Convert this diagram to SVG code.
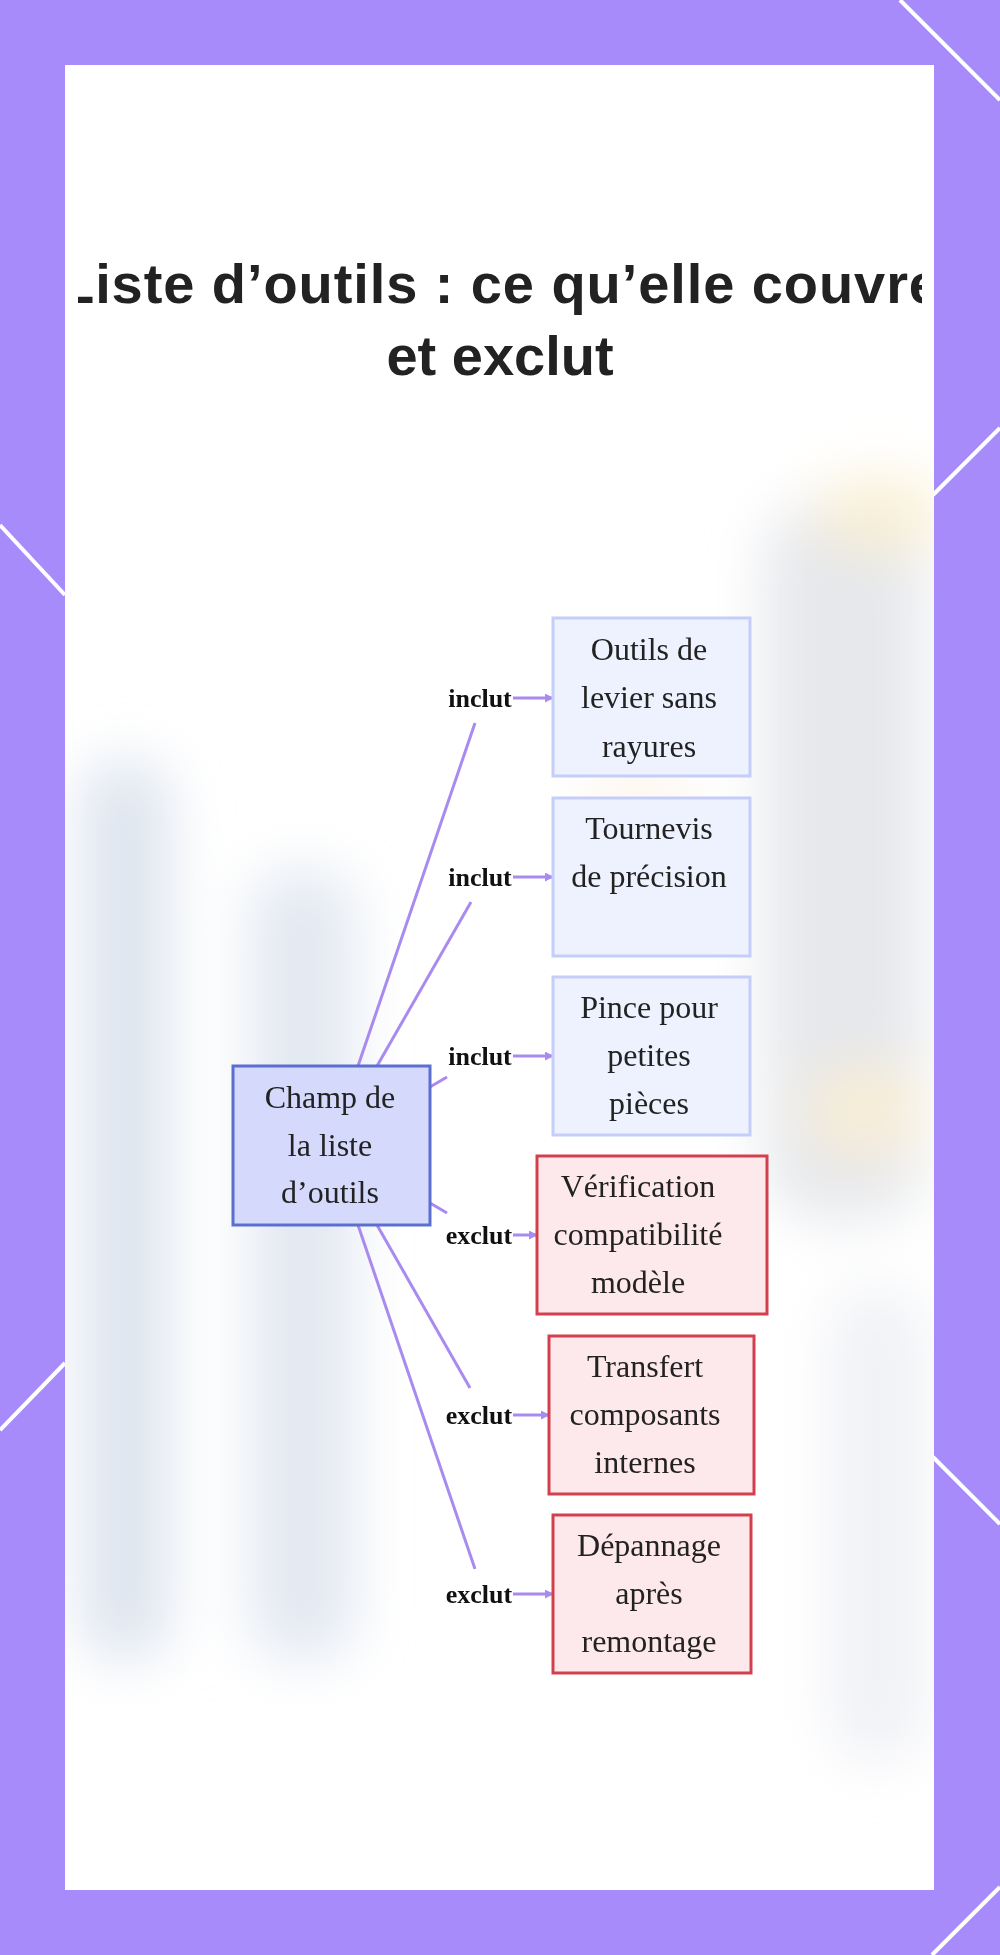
<svg xmlns="http://www.w3.org/2000/svg" width="1000" height="1955" viewBox="0 0 1000 1955">
<defs>
<style>
.title{font-family:"Liberation Sans",Arial,sans-serif;font-weight:bold;font-size:56px;fill:#222;text-anchor:middle}
.nt{font-family:"Liberation Serif","Times New Roman",serif;font-size:32px;fill:#222;text-anchor:middle}
.lbl{font-family:"Liberation Serif","Times New Roman",serif;font-weight:bold;font-size:26px;fill:#111;text-anchor:middle}
.inc{fill:#EEF1FE;stroke:#C5CEF8;stroke-width:3}
.exc{fill:#FDE8EC;stroke:#D2404E;stroke-width:3}
.ctr{fill:#D5D9FB;stroke:#5B6FCF;stroke-width:3}
.edge{fill:none;stroke:#A98BF0;stroke-width:3}
.lblbg{fill:#ffffff;fill-opacity:0.8}
.fl{stroke:#ffffff;stroke-width:4;fill:none}
</style>
<marker id="ah" viewBox="0 0 10 10" refX="9" refY="5" markerWidth="3" markerHeight="3" orient="auto">
<path d="M0,0 L10,5 L0,10 z" fill="#A98BF0"/>
</marker>
<filter id="blur" x="-50%" y="-50%" width="200%" height="200%"><feGaussianBlur stdDeviation="28"/></filter>
<clipPath id="panelclip"><rect x="65" y="65" width="869" height="1825"/></clipPath>
<clipPath id="titleclip"><rect x="78" y="200" width="844" height="220"/></clipPath>
</defs>
<rect x="0" y="0" width="1000" height="1955" fill="#A78BFA"/>
<g id="frame-lines">
<line class="fl" x1="900" y1="0" x2="1000" y2="100"/>
<line class="fl" x1="933" y1="495" x2="1000" y2="428"/>
<line class="fl" x1="0" y1="525" x2="65" y2="595"/>
<line class="fl" x1="0" y1="1430" x2="65" y2="1363"/>
<line class="fl" x1="933" y1="1457" x2="1000" y2="1524"/>
<line class="fl" x1="932" y1="1955" x2="1000" y2="1887"/>
</g>
<rect x="65" y="65" width="869" height="1825" fill="#ffffff"/>
<g id="background" clip-path="url(#panelclip)">
<g filter="url(#blur)">
<rect x="80" y="760" width="90" height="900" rx="40" fill="#D8E0EC" opacity="0.85"/>
<rect x="250" y="870" width="105" height="790" rx="40" fill="#DCE3EE" opacity="0.8"/>
<rect x="765" y="500" width="160" height="720" rx="60" fill="#E2E4E9" opacity="0.85"/>
<ellipse cx="880" cy="515" rx="65" ry="40" fill="#FAEFD2" opacity="0.9"/>
<ellipse cx="865" cy="1110" rx="60" ry="50" fill="#FAEFD2" opacity="0.85"/>
<rect x="830" y="1290" width="95" height="470" rx="40" fill="#ECEEF2" opacity="0.8"/>
<ellipse cx="640" cy="790" rx="60" ry="30" fill="#FBEEDF" opacity="0.6"/>
</g>
</g>
<g id="title" clip-path="url(#titleclip)">
<text class="title" x="500" y="303" textLength="880" lengthAdjust="spacing">Liste d’outils : ce qu’elle couvre</text>
<text class="title" x="500" y="375">et exclut</text>
</g>
<g id="connectors">
<path class="edge" d="M358,1066 L475,723"/>
<path class="edge" d="M513,698 L553,698" marker-end="url(#ah)"/>
<path class="edge" d="M377,1066 L471,902"/>
<path class="edge" d="M513,877 L553,877" marker-end="url(#ah)"/>
<path class="edge" d="M430,1087 L447,1077"/>
<path class="edge" d="M513,1056 L553,1056" marker-end="url(#ah)"/>
<path class="edge" d="M430,1203 L447,1213"/>
<path class="edge" d="M513,1235 L537,1235" marker-end="url(#ah)"/>
<path class="edge" d="M377,1225 L470,1388"/>
<path class="edge" d="M513,1415 L549,1415" marker-end="url(#ah)"/>
<path class="edge" d="M358,1225 L475,1569"/>
<path class="edge" d="M513,1594 L553,1594" marker-end="url(#ah)"/>
</g>
<g id="labels">
<rect class="lblbg" x="446" y="682" width="67" height="32"/>
<text class="lbl" x="480" y="707">inclut</text>
<rect class="lblbg" x="446" y="861" width="67" height="32"/>
<text class="lbl" x="480" y="886">inclut</text>
<rect class="lblbg" x="446" y="1040" width="67" height="32"/>
<text class="lbl" x="480" y="1065">inclut</text>
<rect class="lblbg" x="444" y="1219" width="69" height="32"/>
<text class="lbl" x="479" y="1244">exclut</text>
<rect class="lblbg" x="444" y="1399" width="69" height="32"/>
<text class="lbl" x="479" y="1424">exclut</text>
<rect class="lblbg" x="444" y="1578" width="69" height="32"/>
<text class="lbl" x="479" y="1603">exclut</text>
</g>
<g id="node-center">
<rect class="ctr" x="233" y="1066" width="197" height="159"/>
<text class="nt" x="330" y="1108">Champ de</text>
<text class="nt" x="330" y="1156">la liste</text>
<text class="nt" x="330" y="1203">d’outils</text>
</g>
<g id="node-inc1">
<rect class="inc" x="553" y="618" width="197" height="158"/>
<text class="nt" x="649" y="660">Outils de</text>
<text class="nt" x="649" y="708">levier sans</text>
<text class="nt" x="649" y="757">rayures</text>
</g>
<g id="node-inc2">
<rect class="inc" x="553" y="798" width="197" height="158"/>
<text class="nt" x="649" y="839">Tournevis</text>
<text class="nt" x="649" y="887">de précision</text>
</g>
<g id="node-inc3">
<rect class="inc" x="553" y="977" width="197" height="158"/>
<text class="nt" x="649" y="1018">Pince pour</text>
<text class="nt" x="649" y="1066">petites</text>
<text class="nt" x="649" y="1114">pièces</text>
</g>
<g id="node-exc1">
<rect class="exc" x="537" y="1156" width="230" height="158"/>
<text class="nt" x="638" y="1197">Vérification</text>
<text class="nt" x="638" y="1245">compatibilité</text>
<text class="nt" x="638" y="1293">modèle</text>
</g>
<g id="node-exc2">
<rect class="exc" x="549" y="1336" width="205" height="158"/>
<text class="nt" x="645" y="1377">Transfert</text>
<text class="nt" x="645" y="1425">composants</text>
<text class="nt" x="645" y="1473">internes</text>
</g>
<g id="node-exc3">
<rect class="exc" x="553" y="1515" width="198" height="158"/>
<text class="nt" x="649" y="1556">Dépannage</text>
<text class="nt" x="649" y="1604">après</text>
<text class="nt" x="649" y="1652">remontage</text>
</g>
</svg>
